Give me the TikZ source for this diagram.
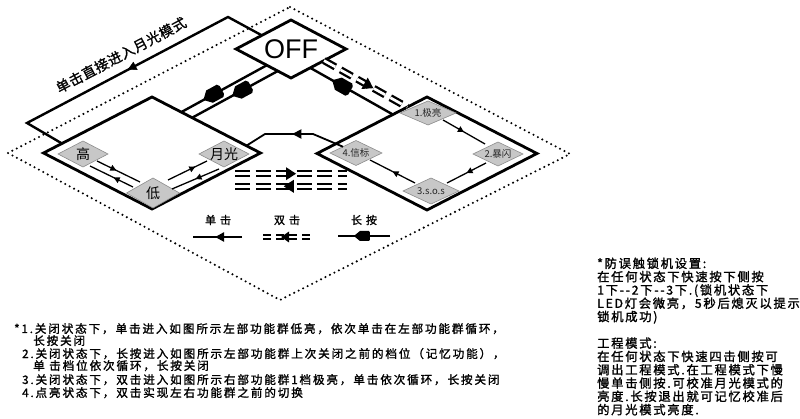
\documentclass[tikz,border=0pt]{standalone}
\usepackage{fontspec}
\newfontfamily\cjk{Noto Sans CJK SC}
\newfontfamily\cjkb[FakeBold=1.2]{Noto Sans CJK SC}
\newfontfamily\cjkr[LetterSpace=14,FakeBold=1.5]{Noto Sans CJK SC}
\newfontfamily\cjkt[LetterSpace=16,FakeBold=1.5]{Noto Sans CJK SC}
\newfontfamily\cjkl[LetterSpace=4,FakeBold=1]{Noto Sans CJK SC}
\newfontfamily\offfont{Liberation Sans}
\usetikzlibrary{shapes.geometric,arrows.meta,decorations.markings,calc}
\newcommand\dtext[1]{\raisebox{-0.37em}[0pt][0pt]{\makebox[0pt]{#1}}}
\begin{document}
\begin{tikzpicture}[x=1pt,y=-1pt,
  thk/.style={line width=2.4pt},
  bigdia/.style={diamond, draw, line width=2.8pt, fill=white, inner sep=0pt, outer sep=0pt},
  graydia/.style={diamond, draw=black!45, fill=black!22, line width=0.6pt, inner sep=0pt, outer sep=0pt},
  bigcjk/.style={font=\cjk\fontsize{14}{14}\selectfont},
  smallcjk/.style={font=\cjk\fontsize{9.5}{10}\selectfont, text=black!85},
  thinlink/.style={line width=1.3pt},
  dbl/.style={line width=2.3pt, double=white, double distance=2.7pt},
  arr/.style={postaction={decorate, decoration={markings, mark=at position #1 with {\arrow{Triangle[length=9pt,width=9pt]}}}}},
  sarr/.style={postaction={decorate, decoration={markings, mark=at position #1 with {\arrow{Triangle[length=6pt,width=6pt]}}}}},
  lmark/.style={postaction={decorate, decoration={markings, mark=at position #1 with {\fill (10,0) -- (3,7) -- (-9,7) -- (-11,4.5) -- (-11,-4.5) -- (-9,-7) -- (3,-7) -- cycle;}}}},
  lmarksmall/.style={postaction={decorate, decoration={markings, mark=at position #1 with {\fill (8,0) -- (2,5) -- (-7,5) -- (-8,3.5) -- (-8,-3.5) -- (-7,-5) -- (2,-5) -- cycle;}}}},
  dblarr/.style={decorate, decoration={markings, mark=at position #1 with {\fill (5,0) -- (-5,6.5) -- (-5,-6.5) -- cycle;}}},
  dblarrsmall/.style={decorate, decoration={markings, mark=at position #1 with {\fill (4,0) -- (-4,5.5) -- (-4,-5.5) -- cycle;}}},
  lt/.style={font=\cjkt\fontsize{11.6}{12}\selectfont, anchor=base west, inner sep=0pt},
  rt/.style={font=\cjkr\fontsize{12.3}{13}\selectfont, anchor=base west, inner sep=0pt},
  legtext/.style={font=\cjkb\fontsize{11}{11}\selectfont},
]
\fill[white] (0,0) rectangle (800,419);
\useasboundingbox (0,0) rectangle (800,419);

% dotted frame
\draw[line width=2.3pt, line cap=round, dash pattern=on 0pt off 5pt] (290,7) -- (570,154) -- (280,300) -- (8,153) -- cycle;

% main diamonds
\node[bigdia, aspect=1.9, minimum width=110, minimum height=58] (off) at (291,49) {\offfont\fontsize{27}{27}\selectfont\dtext{OFF}};
\node[bigdia, minimum width=217, minimum height=112] (lg) at (152,153) {};
\node[bigdia, minimum width=220, minimum height=113] (rg) at (427,153.5) {};

% loop: single click goes straight to moonlight
\coordinate (lp1) at (228,17);
\coordinate (lp2) at (27,123);
\draw[thk, line join=miter] ($(off.west)!0.47!(off.north)$) -- (lp1) -- (lp2) -- ($(lg.west)!0.17!(lg.north)$);
\path[arr=0.5] (lp1) -- (lp2);
\node[font=\cjkl\fontsize{14}{14}\selectfont, rotate=27.8] (lbl) at (121,55) {单击直接进入月光模式};

% OFF <-> left group (long press)
\draw[thk, lmark=0.64] ($(off.west)!0.56!(off.south)$) -- ($(lg.north)!0.27!(lg.east)$);
\draw[thk, lmark=0.43] ($(off.west)!0.76!(off.south)$) -- ($(lg.north)!0.37!(lg.east)$);

% OFF <-> right group
\draw[thk, lmark=0.63] ($(rg.west)!0.69!(rg.north)$) -- ($(off.south)!0.35!(off.east)$);
\draw[dbl, dash pattern=on 13pt off 6pt] ($(off.south)!0.6!(off.east)$) -- ($(rg.west)!0.82!(rg.north)$);
\path[dblarr=0.54] ($(off.south)!0.6!(off.east)$) -- ($(rg.west)!0.82!(rg.north)$);

% gray state nodes
\node[graydia, bigcjk, minimum width=50, minimum height=26] (gao) at (83,154) {\dtext{高}};
\node[graydia, bigcjk, minimum width=50, minimum height=26] (yg) at (224,154) {\dtext{月光}};
\node[graydia, bigcjk, minimum width=53, minimum height=30] (di) at (153,193) {\dtext{低}};
\node[graydia, smallcjk, minimum width=56, minimum height=24] (n1) at (428,113) {\dtext{1.极亮}};
\node[graydia, smallcjk, minimum width=50, minimum height=24] (n2) at (498,154) {\dtext{2.暴闪}};
\node[graydia, smallcjk, minimum width=56, minimum height=26] (n3) at (431,191) {\dtext{3.s.o.s}};
\node[graydia, smallcjk, minimum width=52, minimum height=25] (n4) at (356,153) {\dtext{4.信标}};

% links inside left group
\draw[thinlink, sarr=0.45] ($(gao)+(14,7)$) -- ($(di)+(-13,-11)$);
\draw[thinlink, sarr=0.45] ($(di)+(-20,-6)$) -- ($(gao)+(7,12)$);
\draw[thinlink, sarr=0.7] ($(di)+(15,-13)$) -- ($(yg)+(-17,7)$);
\draw[thinlink, sarr=0.5] ($(yg)+(-5,15)$) -- ($(di)+(19,-4)$);

% links inside right group
\draw[thinlink, sarr=0.5] ($(n1)+(15,7)$) -- ($(n2)+(-13,-10)$);
\draw[thinlink, sarr=0.5] ($(n2)+(-12,9)$) -- ($(n3)+(16,-8)$);
\draw[thinlink, sarr=0.5] ($(n3)+(-16,-8)$) -- ($(n4)+(14,7)$);

% signal -> moonlight link
\coordinate (m1) at (313,134);
\coordinate (m2) at (265,134);
\draw[line width=1.8pt, line join=miter, arr=0.52] (n4.north west) -- (m1) -- (m2) -- ($(lg.north)!0.87!(lg.east)$);

% double-click switching between groups
\coordinate (r1a) at (235,173.7);
\coordinate (r1b) at (347,173.7);
\coordinate (r2a) at (235,186.3);
\coordinate (r2b) at (347,186.3);
\draw[dbl, dash pattern=on 15pt off 5.5pt] (r1a) -- (r1b);
\path[dblarr=0.5] (r1a) -- (r1b);
\draw[dbl, dash pattern=on 15pt off 5.5pt] (r2a) -- (r2b);
\path[dblarr=0.52] (r2b) -- (r2a);

% legend
\node[legtext] (lg1) at (218,220) {单\hspace{4pt}击};
\node[legtext] (lg2) at (287,220) {双\hspace{4pt}击};
\node[legtext] (lg3) at (364,220) {长\hspace{4pt}按};
\coordinate (s1a) at (193,237);
\coordinate (s1b) at (242,237);
\draw[line width=2.4pt, arr=0.55] (s1b) -- (s1a);
\coordinate (s2a) at (263,237);
\coordinate (s2b) at (312,237);
\draw[line width=2pt, double=white, double distance=1.5pt, dash pattern=on 8pt off 5pt] (s2a) -- (s2b);
\path[dblarrsmall=0.55] (s2b) -- (s2a);
\coordinate (s3a) at (338,236);
\coordinate (s3b) at (390,236);
\draw[line width=2.4pt, lmarksmall=0.54] (s3b) -- (s3a);

% notes left
\node[lt] (t1) at (14,333) {*1.关闭状态下，单击进入如图所示左部功能群低亮，依次单击在左部功能群循环，};
\node[lt] (t2) at (33,345) {长按关闭};
\node[lt] (t3) at (22,358) {2.关闭状态下，长按进入如图所示左部功能群上次关闭之前的档位（记忆功能），};
\node[lt] (t4) at (33,370) {单 击档位依次循环，长按关闭};
\node[lt] (t5) at (22,384) {3.关闭状态下，双击进入如图所示右部功能群1档极亮，单击依次循环，长按关闭};
\node[lt] (t6) at (22,397) {4.点亮状态下，双击实现左右功能群之前的切换};

% notes right
\node[rt] (u1) at (597,268) {*防误触锁机设置:};
\node[rt] (u2) at (597,281.3) {在任何状态下快速按下侧按};
\node[rt] (u3) at (597,294.6) {1下--2下--3下.(锁机状态下};
\node[rt] (u4) at (597,307.9) {LED灯会微亮，5秒后熄灭以提示};
\node[rt] (u5) at (597,321.2) {锁机成功)};
\node[rt] (u6) at (597,347.8) {工程模式:};
\node[rt] (u7) at (597,361.1) {在任何状态下快速四击侧按可};
\node[rt] (u8) at (597,374.4) {调出工程模式.在工程模式下慢};
\node[rt] (u9) at (597,387.7) {慢单击侧按.可校准月光模式的};
\node[rt] (u10) at (597,401) {亮度.长按退出就可记忆校准后};
\node[rt] (u11) at (597,414.3) {的月光模式亮度.};
\end{tikzpicture}
\end{document}
